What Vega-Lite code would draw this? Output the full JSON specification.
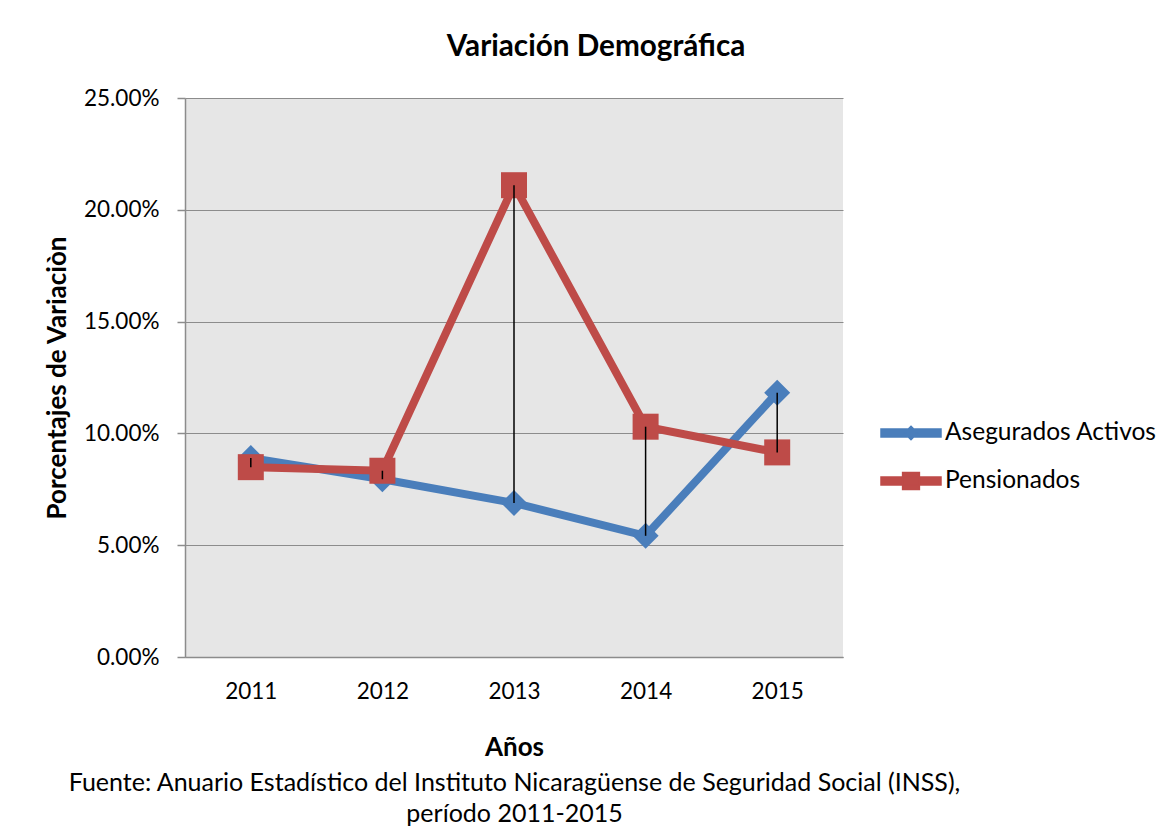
{
  "$schema": "https://vega.github.io/schema/vega-lite/v6.json",
  "width": 658,
  "height": 559,
  "autosize": {"type": "none"},
  "padding": {"left": 185, "top": 98, "right": 332, "bottom": 182},
  "background": "white",
  "title": {
    "text": "Variación Demográfica",
    "fontSize": 29.7,
    "fontWeight": "bold",
    "font": "Lato, sans-serif",
    "color": "black",
    "anchor": "middle",
    "dx": 82,
    "offset": 24
  },
  "data": {
    "values": [
      {"year": "2011", "Asegurados Activos": 0.0890, "Pensionados": 0.0849},
      {"year": "2012", "Asegurados Activos": 0.0795, "Pensionados": 0.0833},
      {"year": "2013", "Asegurados Activos": 0.0689, "Pensionados": 0.2110},
      {"year": "2014", "Asegurados Activos": 0.0542, "Pensionados": 0.1030},
      {"year": "2015", "Asegurados Activos": 0.1182, "Pensionados": 0.0915}
    ]
  },
  "config": {
    "font": "Lato, sans-serif",
    "view": {"fill": "#E6E6E6", "stroke": null},
    "axis": {
      "labelFont": "Lato, sans-serif",
      "titleFont": "Lato, sans-serif",
      "labelColor": "black",
      "titleColor": "black",
      "labelFontSize": 22.5,
      "titleFontSize": 26,
      "domainColor": "#8C8C8C",
      "domainWidth": 1.5,
      "tickColor": "#8C8C8C",
      "tickWidth": 1.5,
      "gridColor": "#8C8C8C",
      "gridWidth": 1.2
    }
  },
  "resolve": {"axis": {"x": "independent"}},
  "layer": [
    {
      "transform": [{"fold": ["Asegurados Activos", "Pensionados"], "as": ["serie", "valor"]}],
      "mark": {"type": "line", "strokeWidth": 8},
      "encoding": {
        "x": {
          "field": "year",
          "type": "ordinal",
          "scale": {"type": "point", "padding": 0.5},
          "axis": {
            "title": "Años",
            "titleFontWeight": "bold",
            "labelAngle": 0,
            "ticks": false,
            "tickSize": 0,
            "labelPadding": 23,
            "titlePadding": 32,
            "grid": false,
            "orient": "bottom"
          }
        },
        "y": {
          "field": "valor",
          "type": "quantitative",
          "scale": {"domain": [0, 0.25], "nice": false},
          "axis": {
            "title": "Porcentajes de Variaciòn",
            "titleFontWeight": "bold",
            "format": ".2%",
            "values": [0, 0.05, 0.1, 0.15, 0.2, 0.25],
            "tickSize": 8,
            "labelPadding": 18,
            "titlePadding": 13,
            "grid": true
          }
        },
        "color": {
          "field": "serie",
          "type": "nominal",
          "scale": {"domain": ["Asegurados Activos", "Pensionados"], "range": ["#4A7EBB", "#BE4B48"]},
          "legend": {
            "title": null,
            "orient": "none",
            "legendX": 705,
            "legendY": 314,
            "labelFontSize": 24.5,
            "labelColor": "black",
            "labelFont": "Lato, sans-serif",
            "labelLimit": 0,
            "symbolSize": 1600,
            "labelOffset": 13,
            "rowPadding": 15,
            "padding": 0,
            "encode": {
              "symbols": {
                "update": {
                  "shape": {"signal": "datum.value === 'Asegurados Activos' ? 'M-1.5,-0.2H1.5V0.2H-1.5Z M0,-0.33L0.33,0L0,0.33L-0.33,0Z' : 'M-1.5,-0.2H1.5V0.2H-1.5Z M-0.42,-0.42H0.42V0.42H-0.42Z'"},
                  "fill": {"scale": "color", "field": "value"},
                  "stroke": {"value": "transparent"},
                  "opacity": {"value": 1}
                }
              }
            }
          }
        }
      }
    },
    {
      "transform": [
        {"fold": ["Asegurados Activos"], "as": ["serie", "valor"]}
      ],
      "mark": {"type": "point", "shape": "diamond", "filled": true, "opacity": 1, "size": 676},
      "encoding": {
        "x": {"field": "year", "type": "ordinal", "axis": null},
        "y": {"field": "valor", "type": "quantitative"},
        "color": {"field": "serie", "type": "nominal"}
      }
    },
    {
      "transform": [
        {"fold": ["Pensionados"], "as": ["serie", "valor"]}
      ],
      "mark": {"type": "point", "shape": "square", "filled": true, "opacity": 1, "size": 676},
      "encoding": {
        "x": {"field": "year", "type": "ordinal", "axis": null},
        "y": {"field": "valor", "type": "quantitative"},
        "color": {"field": "serie", "type": "nominal"}
      }
    },
    {
      "mark": {"type": "rule", "color": "black", "strokeWidth": 1.5},
      "encoding": {
        "x": {
          "field": "year",
          "type": "ordinal",
          "axis": {
            "orient": "bottom",
            "title": ["Fuente: Anuario Estadístico del Instituto Nicaragüense de  Seguridad Social (INSS),", "período 2011-2015"],
            "titleFontWeight": "normal",
            "titleFontSize": 25,
            "titleLineHeight": 31,
            "titlePadding": 113,
            "labels": false,
            "ticks": false,
            "domain": false,
            "grid": false
          }
        },
        "y": {"field": "Asegurados Activos", "type": "quantitative"},
        "y2": {"field": "Pensionados"}
      }
    }
  ]
}
